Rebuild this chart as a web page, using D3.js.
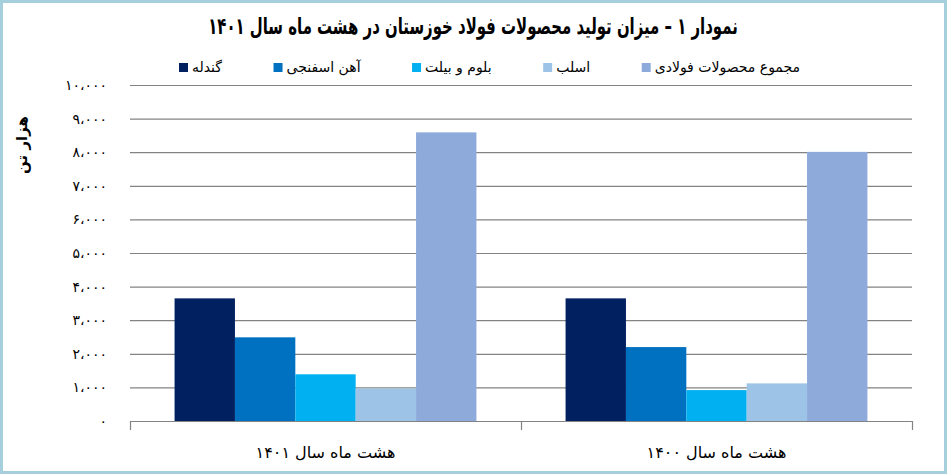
<!doctype html>
<html lang="fa">
<head>
<meta charset="UTF-8">
<title>نمودار ۱</title>
<script src="https://d3js.org/d3.v7.min.js"></script>
<style>
  body { margin: 0; background: #fff; }
  text { font-family: "DejaVu Sans", sans-serif; }
</style>
</head>
<body>
<div id="chart-area"></div>
<script>
const categories = ["هشت ماه سال ۱۴۰۱", "هشت ماه سال ۱۴۰۰"];
const seriesNames = ["گندله", "آهن اسفنجی", "بلوم و بیلت", "اسلب", "مجموع محصولات فولادی"];
const gondaleh = [3650, 3650];
const ahanEsfanji = [2490, 2200];
const bloomBillet = [1390, 920];
const slab = [970, 1120];
const total = [8590, 8010];
const yTicks = [0, 1000, 2000, 3000, 4000, 5000, 6000, 7000, 8000, 9000, 10000];

const seriesValues = [gondaleh, ahanEsfanji, bloomBillet, slab, total];
const colors = ["#002060", "#0070c0", "#00b0f0", "#9dc3e6", "#8eaadb"];

const W = 947, H = 474;
const plotL = 130, plotR = 912, plotT = 85, plotB = 421;

const fa = s => String(s).replace(/\d/g, d => "۰۱۲۳۴۵۶۷۸۹"[d]);

const svg = d3.select('#chart-area')
    .append('svg')
    .attr('width', W)
    .attr('height', H);

// frame
svg.append('rect')
    .attr('x', 1.5).attr('y', 1.5)
    .attr('width', W - 3).attr('height', H - 3)
    .attr('fill', '#fff')
    .attr('stroke', '#a5cfdc')
    .attr('stroke-width', 3);

const x0 = d3.scaleBand()
    .domain(categories)
    .range([plotL, plotR])
    .paddingInner(0.228)
    .paddingOuter(0.114);

const x1 = d3.scaleBand()
    .domain(seriesNames)
    .range([0, x0.bandwidth()]);

const y = d3.scaleLinear()
    .domain([0, 10000])
    .range([plotB, plotT]);

// gridlines + y labels
const yAxis = svg.append('g')
    .attr('transform', `translate(${plotL},0)`)
    .call(d3.axisLeft(y)
        .tickValues(yTicks)
        .tickSize(-(plotR - plotL))
        .tickPadding(23)
        .tickFormat(d => fa(d3.format(',')(d)).replace(/,/g, '،')));
yAxis.select('.domain').remove();
yAxis.selectAll('.tick line').attr('stroke', '#838383').attr('stroke-width', 1.2);
yAxis.selectAll('.tick text')
    .attr('font-size', 14)
    .attr('fill', '#000')
    .attr('direction', 'ltr');

// bars
const groups = svg.append('g')
    .selectAll('g')
    .data(categories)
    .join('g')
    .attr('transform', d => `translate(${x0(d)},0)`);

groups.selectAll('rect')
    .data((c, ci) => seriesNames.map((s, si) => ({ s, v: seriesValues[si][ci], i: si })))
    .join('rect')
    .attr('x', d => x1(d.s))
    .attr('y', d => y(d.v))
    .attr('width', x1.bandwidth())
    .attr('height', d => plotB - y(d.v))
    .attr('fill', d => colors[d.i]);

// bottom axis with ticks at category boundaries
const xb = d3.scaleLinear().domain([0, categories.length]).range([plotL, plotR]);
const xAxis = svg.append('g')
    .attr('transform', `translate(0,${plotB})`)
    .call(d3.axisBottom(xb)
        .tickValues(d3.range(categories.length + 1))
        .tickSize(9)
        .tickSizeOuter(0)
        .tickFormat(''));
xAxis.select('.domain').attr('stroke', '#838383').attr('stroke-width', 1.2);
xAxis.selectAll('.tick line').attr('stroke', '#838383').attr('stroke-width', 1.2);

svg.append('g')
    .selectAll('text')
    .data(categories)
    .join('text')
    .attr('x', d => x0(d) + x0.bandwidth() / 2)
    .attr('y', 458)
    .attr('text-anchor', 'middle')
    .attr('direction', 'rtl')
    .attr('font-size', 16)
    .attr('fill', '#000')
    .text(d => d);

// y title
svg.append('text')
    .attr('transform', 'translate(27,145) rotate(-90)')
    .attr('text-anchor', 'middle')
    .attr('direction', 'rtl')
    .attr('font-size', 15)
    .attr('font-weight', 'bold')
    .text('هزار تن');

// title, squeezed horizontally like the condensed original face
const titleG = svg.append('g');
const title = titleG.append('text')
    .attr('x', 0)
    .attr('y', 0)
    .attr('text-anchor', 'middle')
    .attr('direction', 'rtl')
    .attr('font-size', 23)
    .attr('font-weight', 'bold')
    .text('نمودار ۱ – میزان تولید محصولات فولاد خوزستان در هشت ماه سال ۱۴۰۱');
const tw = title.node().getComputedTextLength();
titleG.attr('transform', `translate(473,34) scale(${530 / tw},1)`);

// legend
const legend = svg.append('g');
const items = legend.selectAll('g')
    .data(seriesNames)
    .join('g');
items.append('rect')
    .attr('width', 9).attr('height', 9)
    .attr('y', 63)
    .attr('fill', (d, i) => colors[i]);
items.append('text')
    .attr('y', 72)
    .attr('font-size', 14)
    .attr('direction', 'rtl')
    .attr('text-anchor', 'end')
    .text(d => d);

const widths = [];
items.each(function () { widths.push(d3.select(this).select('text').node().getComputedTextLength()); });
const lStart = 179, lEnd = 800;
const gap = (lEnd - lStart - d3.sum(widths) - 13 * widths.length) / (widths.length - 1);
let lx = lStart;
items.each(function (d, i) {
    const g = d3.select(this);
    g.select('rect').attr('x', lx);
    g.select('text').attr('x', lx + 13);
    lx += 13 + widths[i] + gap;
});
</script>
</body>
</html>
